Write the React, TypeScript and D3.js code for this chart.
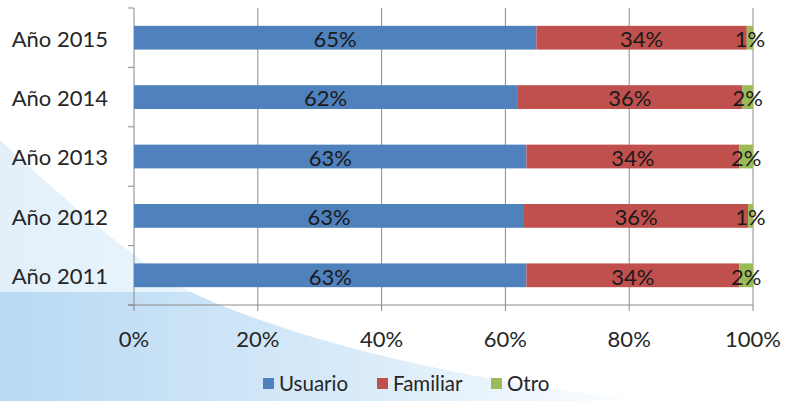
import React from "react";
import * as d3 from "d3";

const categories = ["Año 2015", "Año 2014", "Año 2013", "Año 2012", "Año 2011"];
const usuario = [65, 61.9, 63.4, 63, 63.4];
const familiar = [34, 36.4, 34.4, 36.2, 34.4];
const otro = [1, 1.7, 2.2, 0.8, 2.2];
const seriesNames = ["Usuario", "Familiar", "Otro"];
const seriesColors = ["#4F81BD", "#C0504D", "#9BBB59"];
const xTicks = [0, 20, 40, 60, 80, 100];

const W = 785;
const H = 401;
const M = { left: 134, right: 32, top: 8, bottom: 96 };
const FONT = "Lato, 'Open Sans', sans-serif";

export default function App() {
  const rows = categories.map((c, i) => ({
    cat: c,
    Usuario: usuario[i],
    Familiar: familiar[i],
    Otro: otro[i],
  }));
  const stacked = d3.stack<any>().keys(seriesNames)(rows);
  const x = d3.scaleLinear().domain([0, 100]).range([M.left, W - M.right]);
  const y = d3
    .scaleBand<string>()
    .domain(categories)
    .range([M.top, H - M.bottom])
    .paddingInner(0.6)
    .paddingOuter(0.3);
  const y0 = M.top;
  const y1 = H - M.bottom;
  const step = y.step();
  const boundaries = d3.range(categories.length + 1).map((i) => y0 + i * step);
  const gridColor = "#8a8a8a";

  const legendItems = [
    { name: "Usuario", x: 263 },
    { name: "Familiar", x: 377 },
    { name: "Otro", x: 491 },
  ];

  return (
    <svg
      width={W}
      height={H}
      style={{ position: "absolute", left: 0, top: 0, background: "#fff" }}
      fontFamily={FONT}
    >
      <defs>
        <linearGradient id="swoosh" x1="0" y1="0" x2="1" y2="0">
          <stop offset="0" stopColor="#b8d9f3" />
          <stop offset="0.55" stopColor="#d9ebf9" />
          <stop offset="1" stopColor="#ffffff" />
        </linearGradient>
      </defs>
      <path
        d="M0,140 C70,205 140,265 193,293 C290,338 450,380 650,401 L0,401 Z"
        fill="url(#swoosh)"
      />
      <rect x={0} y={0} width={W} height={292} fill="#fff" opacity={0.6} />

      {/* gridlines */}
      {xTicks.map((t) => (
        <line
          key={"g" + t}
          x1={x(t)}
          x2={x(t)}
          y1={y0}
          y2={y1 + 6}
          stroke={gridColor}
          strokeWidth={1}
        />
      ))}
      {/* y axis ticks */}
      {boundaries.map((b, i) => (
        <line key={"yt" + i} x1={M.left - 6} x2={M.left} y1={b} y2={b} stroke={gridColor} />
      ))}
      <line x1={M.left - 6} x2={x(100)} y1={y1} y2={y1} stroke={gridColor} />

      {/* bars */}
      {stacked.map((s, si) =>
        s.map((d, i) => (
          <rect
            key={s.key + i}
            x={x(d[0])}
            width={x(d[1]) - x(d[0])}
            y={y(categories[i])}
            height={y.bandwidth()}
            fill={seriesColors[si]}
          />
        ))
      )}
      {/* bar labels */}
      {stacked.map((s, si) =>
        s.map((d, i) => (
          <text
            key={"l" + s.key + i}
            x={(x(d[0]) + x(d[1])) / 2}
            y={(y(categories[i]) as number) + y.bandwidth() / 2}
            dy="0.42em"
            textAnchor="middle"
            fontSize={22}
            fill="#1a1a1a"
          >
            {Math.round(d[1] - d[0]) + "%"}
          </text>
        ))
      )}

      {/* category labels */}
      {categories.map((c) => (
        <text
          key={"c" + c}
          x={108}
          y={(y(c) as number) + y.bandwidth() / 2}
          dy="0.4em"
          textAnchor="end"
          fontSize={22}
          fill="#262626"
        >
          {c}
        </text>
      ))}
      {/* x tick labels */}
      {xTicks.map((t) => (
        <text
          key={"xl" + t}
          x={x(t)}
          y={339}
          dy="0.36em"
          textAnchor="middle"
          fontSize={22}
          fill="#262626"
        >
          {t + "%"}
        </text>
      ))}

      {/* legend */}
      {legendItems.map((it, i) => (
        <g key={it.name}>
          <rect x={it.x} y={378} width={11} height={11} fill={seriesColors[i]} />
          <text x={it.x + 16} y={384} dy="0.36em" fontSize={20.5} fill="#262626">
            {it.name}
          </text>
        </g>
      ))}
    </svg>
  );
}
